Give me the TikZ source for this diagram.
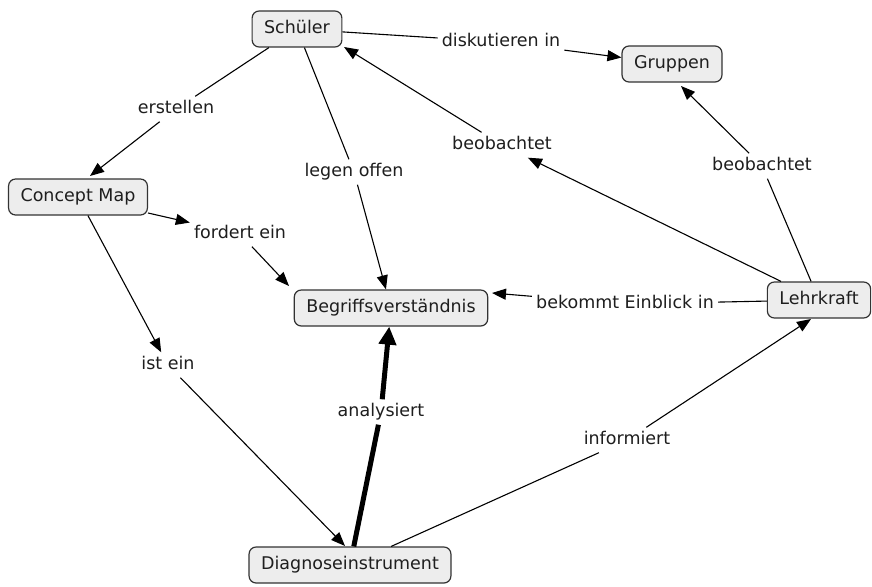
\documentclass[tikz,border=0pt]{standalone}
\usepackage{fontspec}
\setmainfont{DejaVu Sans}
\usetikzlibrary{arrows.meta}
\definecolor{boxfill}{HTML}{EDEDED}
\definecolor{boxline}{HTML}{333333}
\definecolor{txt}{HTML}{1E1E1E}
\begin{document}
\begin{tikzpicture}[x=1pt,y=-1pt,
  font=\fontsize{17.5}{20}\selectfont,
  concept/.style={draw=boxline,line width=1.2pt,fill=boxfill,rounded corners=7pt,
    inner xsep=12pt,inner ysep=9.5pt,text height=13pt,text depth=4pt,text=txt},
  phrase/.style={inner sep=4pt,text height=13pt,text depth=4pt,text=txt},
  link/.style={draw=black,line width=1.1pt},
  arr/.style={link,-{Triangle[length=14pt,width=11pt]}},
  heavy/.style={draw=black,line width=5pt},
  heavyarr/.style={heavy,-{Triangle[length=18pt,width=17pt]}}]
\useasboundingbox[fill=white] (0,0) rectangle (872,586);

% concepts
\node[concept] (sch) at (297,29) {Schüler};
\node[concept] (grp) at (672,64) {Gruppen};
\node[concept] (cm)  at (78,197) {Concept Map};
\node[concept] (bv)  at (391,308) {Begriffsverständnis};
\node[concept] (lk)  at (819,300) {Lehrkraft};
\node[concept] (dg)  at (350,565) {Diagnoseinstrument};

% linking phrases
\node[phrase] (disk) at (501,42)  {diskutieren in};
\node[phrase] (ersl) at (176,109) {erstellen};
\node[phrase] (beo1) at (502,145) {beobachtet};
\node[phrase] (beo2) at (762,166) {beobachtet};
\node[phrase] (leg)  at (354,172) {legen offen};
\node[phrase] (ford) at (240,234) {fordert ein};
\node[phrase] (bek)  at (625,304) {bekommt Einblick in};
\node[phrase] (ist)  at (168,365) {ist ein};
\node[phrase] (ana)  at (381,412) {analysiert};
\node[phrase] (inf)  at (627,440) {informiert};

% arrow end points at the concept borders
\coordinate (bvNW) at (289,286);
\coordinate (bvNE) at (492,293);
\coordinate (schSE) at (344,47);
\coordinate (cmN) at (90,176);
\coordinate (dgN) at (345,546);
\coordinate (lkS) at (811,319);
\coordinate (grpS) at (681,86);

% connectors
\draw[link] (sch) -- (disk);
\draw[arr]  (disk) -- (grp);
\draw[link] (sch) -- (ersl);
\draw[arr]  (ersl) -- (cmN);
\draw[link] (sch) -- (leg);
\draw[arr]  (leg) -- (bv);
\draw[arr]  (cm) -- (ford);
\draw[arr]  (ford) -- (bvNW);
\draw[arr]  (cm) -- (ist);
\draw[arr]  (ist) -- (dgN);
\draw[arr]  (lk) -- (beo1);
\draw[arr]  (beo1) -- (schSE);
\draw[link] (lk) -- (beo2);
\draw[arr]  (beo2) -- (grpS);
\draw[link] (lk) -- (bek);
\draw[arr]  (bek) -- (bvNE);
\draw[heavy] (dg) -- (ana);
\draw[heavyarr] (ana) -- (bv);
\draw[link] (dg) -- (inf);
\draw[arr]  (inf) -- (lkS);
\end{tikzpicture}
\end{document}
